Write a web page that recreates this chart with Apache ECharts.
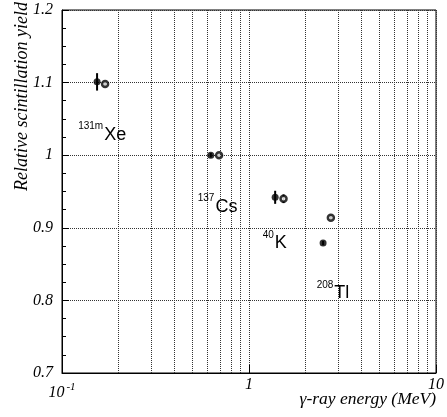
<!DOCTYPE html>
<html>
<head>
<meta charset="utf-8">
<script src="https://cdn.jsdelivr.net/npm/echarts@6/dist/echarts.min.js"></script>
<style>
  html, body { margin: 0; padding: 0; background: #fff; }
  #main { width: 447px; height: 417px; }
</style>
</head>
<body>
<div id="main"></div>
<script>
// gamma energies (MeV) and relative yields, filled and open markers
const filledE = [0.154, 0.625, 1.38, 2.49];
const filledY = [1.101, 1.0, 0.942, 0.879];
const filledErr = [0.012, 0.003, 0.009, 0.003];
const openE = [0.170, 0.692, 1.53, 2.74];
const openY = [1.098, 1.0, 0.940, 0.914];
const openErr = [0.003, 0.003, 0.006, 0.003];

// isotope labels (anchor in data coords)
const labelSup = ['131m', '137', '40', '208'];
const labelMain = ['Xe', 'Cs', 'K', 'Tl'];
const labelE = [0.122, 0.532, 1.184, 2.30];
const labelY = [1.031, 0.932, 0.882, 0.813];

// minor decade lines on the log axis
const minorE = [0.2, 0.3, 0.4, 0.5, 0.6, 0.7, 0.8, 0.9, 2, 3, 4, 5, 6, 7, 8, 9];

const serif = 'Liberation Serif';
const sans = 'Liberation Sans';
const dotted = { type: 'dotted', color: '#333', width: 1 };

const chart = echarts.init(document.getElementById('main'), null, { renderer: 'canvas' });

function errBar(E, Y, Err) {
  return {
    type: 'custom',
    silent: true,
    z: 3,
    data: E.map((e, i) => [e, Y[i], Err[i]]),
    renderItem: function (params, api) {
      const lo = api.coord([api.value(0), api.value(1) - api.value(2)]);
      const hi = api.coord([api.value(0), api.value(1) + api.value(2)]);
      return {
        type: 'line',
        shape: { x1: lo[0], y1: lo[1], x2: hi[0], y2: hi[1] },
        style: { stroke: '#000', lineWidth: 2 }
      };
    }
  };
}

var option = {
  animation: false,
  grid: {
    left: 62, right: 11, top: 10, bottom: 44,
    show: true, borderColor: '#000', borderWidth: 1
  },
  xAxis: {
    type: 'log',
    logBase: 10,
    min: 0.1,
    max: 10,
    axisLine: { show: true, lineStyle: { color: '#000', width: 1 } },
    axisTick: { show: true, inside: true, length: 8, lineStyle: { color: '#000' } },
    splitLine: { show: true, lineStyle: dotted },
    axisLabel: {
      margin: 4,
      fontFamily: serif,
      fontStyle: 'italic',
      fontSize: 16,
      color: '#000',
      formatter: function (v) {
        if (v < 0.5) return '{b|10}{s|-1}';
        return String(v);
      },
      rich: {
        b: { fontFamily: serif, fontStyle: 'italic', fontSize: 16, color: '#000', padding: [8, 0, 0, 0] },
        s: { fontFamily: serif, fontStyle: 'italic', fontSize: 11, color: '#000', padding: [0, 0, 4, 2] }
      }
    }
  },
  yAxis: {
    type: 'value',
    min: 0.7,
    max: 1.2,
    interval: 0.1,
    axisLine: { show: true, lineStyle: { color: '#000', width: 1 } },
    axisTick: { show: true, inside: true, length: 7, lineStyle: { color: '#000' } },
    minorTick: { show: true, splitNumber: 4, length: 4, lineStyle: { color: '#000' } },
    splitLine: { show: true, lineStyle: dotted },
    axisLabel: {
      margin: 9,
      fontFamily: serif,
      fontStyle: 'italic',
      fontSize: 16,
      color: '#000',
      formatter: function (v) { return String(+v.toFixed(1)); }
    }
  },
  graphic: [
    {
      type: 'text',
      x: 22, y: 2,
      rotation: Math.PI / 2,
      style: {
        text: 'Relative scintillation yield',
        fontFamily: serif, fontStyle: 'italic', fontSize: 18,
        fill: '#000', align: 'right', verticalAlign: 'middle'
      }
    },
    {
      type: 'text',
      x: 436, y: 399,
      style: {
        text: 'γ-ray energy (MeV)',
        fontFamily: serif, fontStyle: 'italic', fontSize: 17.5,
        fill: '#000', align: 'right', verticalAlign: 'middle'
      }
    }
  ],
  series: [
    {
      type: 'scatter',
      silent: true,
      symbolSize: 0,
      data: [],
      markLine: {
        silent: true,
        symbol: 'none',
        label: { show: false },
        lineStyle: dotted,
        data: minorE.map(v => ({ xAxis: v }))
      }
    },
    errBar(filledE, filledY, filledErr),
    errBar(openE, openY, openErr),
    {
      type: 'scatter',
      z: 4,
      symbol: 'circle',
      symbolSize: 7,
      itemStyle: { color: '#000' },
      data: filledE.map((e, i) => [e, filledY[i]])
    },
    {
      type: 'scatter',
      z: 4,
      symbol: 'circle',
      symbolSize: 6,
      itemStyle: { color: '#fff', borderColor: '#000', borderWidth: 2.5 },
      data: openE.map((e, i) => [e, openY[i]])
    },
    {
      type: 'custom',
      silent: true,
      z: 5,
      data: labelE.map((e, i) => [e, labelY[i]]),
      renderItem: function (params, api) {
        const p = api.coord([api.value(0), api.value(1)]);
        const i = params.dataIndex;
        return {
          type: 'text',
          x: p[0], y: p[1],
          style: {
            text: '{s|' + labelSup[i] + '}{m|' + labelMain[i] + '}',
            align: 'left',
            verticalAlign: 'middle',
            rich: {
              s: { fontFamily: sans, fontSize: 10, fill: '#000', lineHeight: 10, verticalAlign: 'top', padding: [0, 1, 0, 0] },
              m: { fontFamily: sans, fontSize: 18, fill: '#000', lineHeight: 22, verticalAlign: 'bottom' }
            }
          }
        };
      }
    }
  ]
};

chart.setOption(option);
</script>
</body>
</html>
